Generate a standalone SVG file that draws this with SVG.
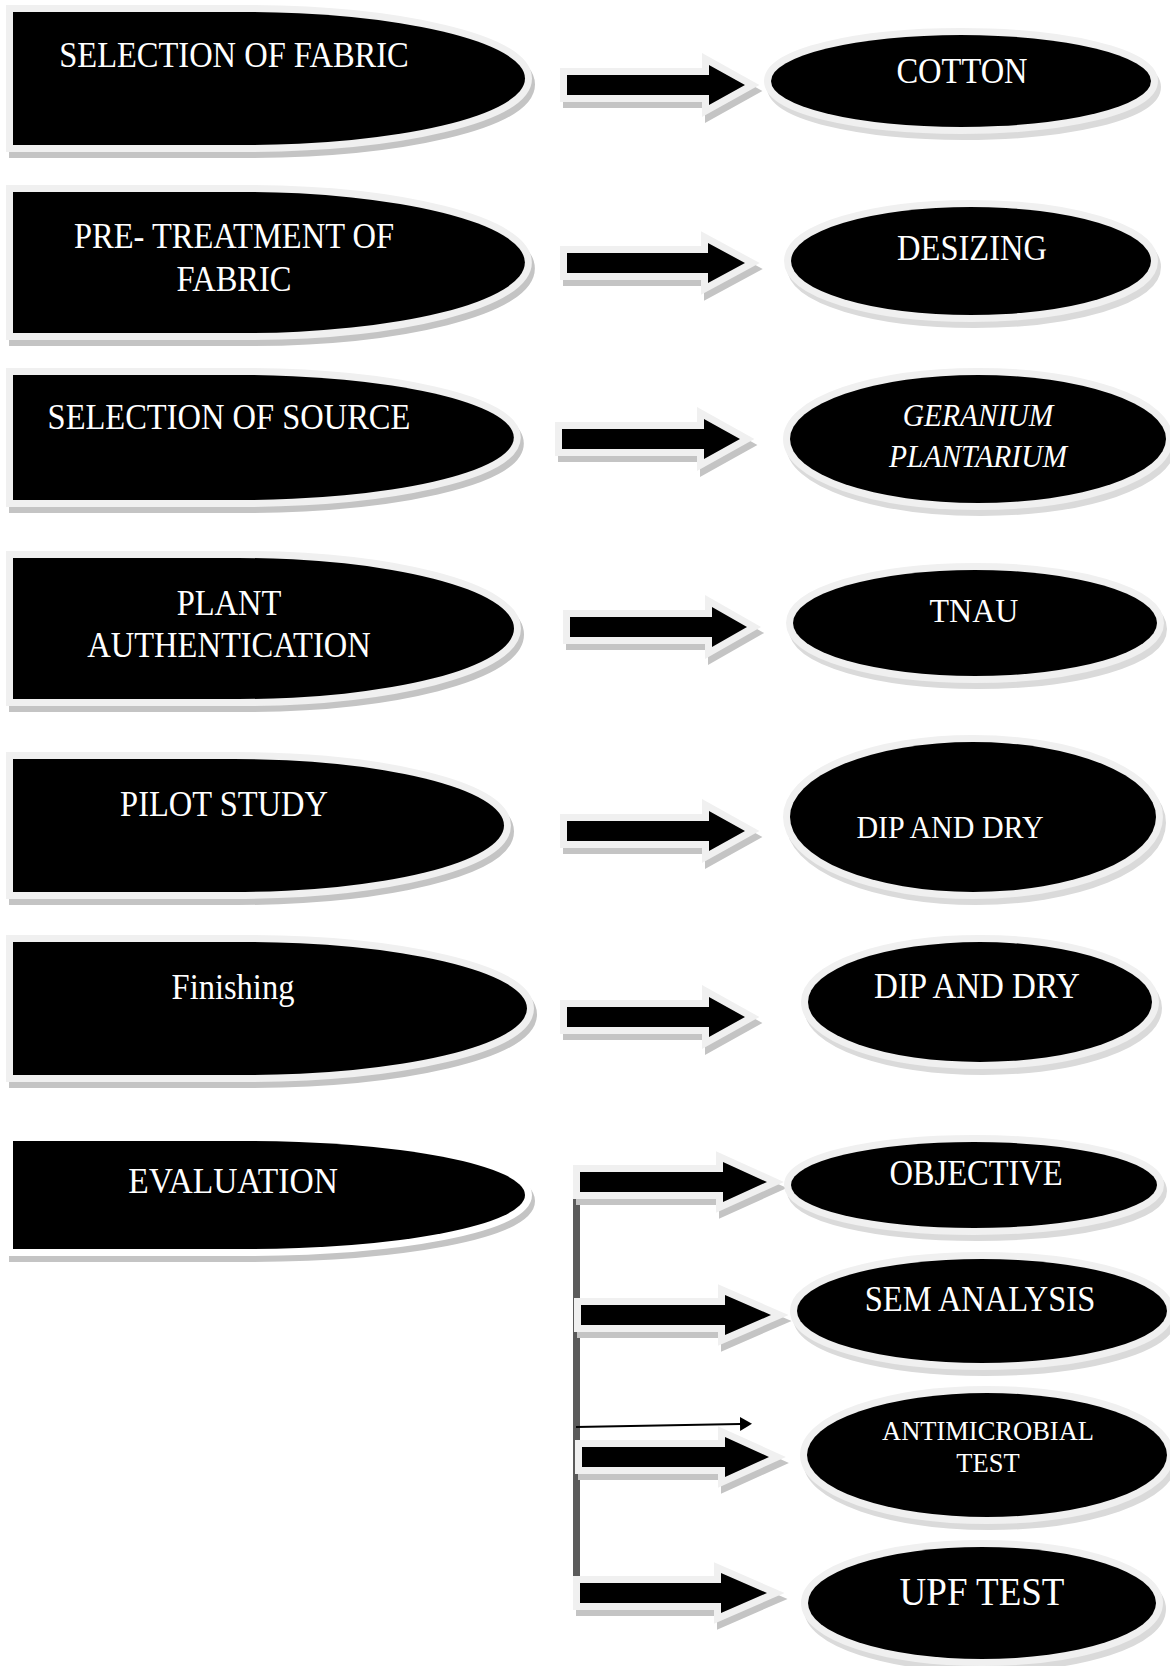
<svg xmlns="http://www.w3.org/2000/svg" width="1170" height="1666" viewBox="0 0 1170 1666">
<defs>
<style>
.shape{fill:#000;stroke:#f0f0f0;stroke-width:14;paint-order:stroke;stroke-linejoin:miter}
.shapew{fill:#000;stroke:#fff;stroke-width:14;paint-order:stroke}
.shadow{fill:#c4c4c4;stroke:#c4c4c4;stroke-width:14}
.eshadow{fill:#dadada;stroke:#dadada;stroke-width:14}
.arrow{fill:#000;stroke:#f0f0f0;stroke-width:14;paint-order:stroke;stroke-linejoin:miter;stroke-miterlimit:4}
.ashadow{fill:#c4c4c4;stroke:#c4c4c4;stroke-width:14;stroke-linejoin:miter;stroke-miterlimit:4}
text{font-family:"Liberation Serif","Times New Roman",serif;fill:#fff;text-anchor:middle;font-size:32.5px}
.it{font-style:italic;font-size:29.5px}
</style>
<marker id="thinhead" viewBox="0 0 12 14" refX="0" refY="7" markerWidth="12" markerHeight="14" markerUnits="userSpaceOnUse" orient="auto">
<path d="M0,0 L12,7 L0,14 Z" fill="#000"/>
</marker>
</defs>
<rect width="1170" height="1666" fill="#fff"/>

<!-- left column nodes -->
<g id="n-selection-fabric">
<path class="shadow" transform="translate(3,6)" d="M13,12 H244 A281,66.5 0 0 1 244,145 H13 Z"/>
<path class="shape" d="M13,12 H244 A281,66.5 0 0 1 244,145 H13 Z"/>
<text transform="translate(234,67) scale(1,1.07)">SELECTION OF FABRIC</text>
</g>
<g id="n-pretreatment">
<path class="shadow" transform="translate(3,6)" d="M13,192 H244 A281,70.5 0 0 1 244,333 H13 Z"/>
<path class="shape" d="M13,192 H244 A281,70.5 0 0 1 244,333 H13 Z"/>
<text transform="translate(234,248) scale(1,1.07)">PRE- TREATMENT OF</text>
<text transform="translate(234,291) scale(1,1.07)">FABRIC</text>
</g>
<g id="n-selection-source">
<path class="shadow" transform="translate(3,6)" d="M13,375 H239 A275,62.5 0 0 1 239,500 H13 Z"/>
<path class="shape" d="M13,375 H239 A275,62.5 0 0 1 239,500 H13 Z"/>
<text transform="translate(229,429) scale(1,1.07)">SELECTION OF SOURCE</text>
</g>
<g id="n-plant-auth">
<path class="shadow" transform="translate(3,6)" d="M13,558 H239 A275,70.5 0 0 1 239,699 H13 Z"/>
<path class="shape" d="M13,558 H239 A275,70.5 0 0 1 239,699 H13 Z"/>
<text transform="translate(229,615) scale(1,1.07)">PLANT</text>
<text transform="translate(229,657) scale(1,1.07)">AUTHENTICATION</text>
</g>
<g id="n-pilot">
<path class="shadow" transform="translate(3,6)" d="M13,759 H234 A270,66.5 0 0 1 234,892 H13 Z"/>
<path class="shape" d="M13,759 H234 A270,66.5 0 0 1 234,892 H13 Z"/>
<text transform="translate(224,816) scale(1,1.07)">PILOT STUDY</text>
</g>
<g id="n-finishing">
<path class="shadow" transform="translate(3,6)" d="M13,942 H245 A282,66.5 0 0 1 245,1075 H13 Z"/>
<path class="shape" d="M13,942 H245 A282,66.5 0 0 1 245,1075 H13 Z"/>
<text transform="translate(233,999) scale(1,1.07)">Finishing</text>
</g>
<g id="n-evaluation">
<path class="shadow" transform="translate(3,6)" d="M13,1141 H244 A281,54 0 0 1 244,1249 H13 Z"/>
<path class="shapew" d="M13,1141 H244 A281,54 0 0 1 244,1249 H13 Z"/>
<text transform="translate(233,1193) scale(1,1.07)" style="font-size:33.5px">EVALUATION</text>
</g>

<!-- connectors -->
<g id="connectors">
<line x1="576.5" y1="1172" x2="576.5" y2="1598" stroke="#5b5b5b" stroke-width="7"/>
<line x1="576" y1="1427" x2="740" y2="1424" stroke="#000" stroke-width="2" marker-end="url(#thinhead)"/>
<g id="arrow-1"><path class="ashadow" transform="translate(3,6)" d="M567,75 H709 V65 L745,85 L709,105 V95 H567 Z"/><path class="arrow" d="M567,75 H709 V65 L745,85 L709,105 V95 H567 Z"/></g>
<g id="arrow-2"><path class="ashadow" transform="translate(3,6)" d="M567,253 H708 V243 L745,263 L708,283 V273 H567 Z"/><path class="arrow" d="M567,253 H708 V243 L745,263 L708,283 V273 H567 Z"/></g>
<g id="arrow-3"><path class="ashadow" transform="translate(3,6)" d="M562,429 H704 V419 L740,439 L704,459 V449 H562 Z"/><path class="arrow" d="M562,429 H704 V419 L740,439 L704,459 V449 H562 Z"/></g>
<g id="arrow-4"><path class="ashadow" transform="translate(3,6)" d="M570,617 H712 V607 L747,627 L712,647 V637 H570 Z"/><path class="arrow" d="M570,617 H712 V607 L747,627 L712,647 V637 H570 Z"/></g>
<g id="arrow-5"><path class="ashadow" transform="translate(3,6)" d="M567,821 H709 V811 L745,831 L709,851 V841 H567 Z"/><path class="arrow" d="M567,821 H709 V811 L745,831 L709,851 V841 H567 Z"/></g>
<g id="arrow-6"><path class="ashadow" transform="translate(3,6)" d="M567,1007 H709 V997 L745,1017 L709,1037 V1027 H567 Z"/><path class="arrow" d="M567,1007 H709 V997 L745,1017 L709,1037 V1027 H567 Z"/></g>
<g id="arrow-7"><path class="ashadow" transform="translate(3,6)" d="M580,1172 H723 V1162 L767,1182 L723,1202 V1192 H580 Z"/><path class="arrow" d="M580,1172 H723 V1162 L767,1182 L723,1202 V1192 H580 Z"/></g>
<g id="arrow-8"><path class="ashadow" transform="translate(3,6)" d="M581,1305 H725 V1295 L771,1315 L725,1335 V1325 H581 Z"/><path class="arrow" d="M581,1305 H725 V1295 L771,1315 L725,1335 V1325 H581 Z"/></g>
<g id="arrow-9"><path class="ashadow" transform="translate(3,6)" d="M582,1447 H725 V1437 L769,1457 L725,1477 V1467 H582 Z"/><path class="arrow" d="M582,1447 H725 V1437 L769,1457 L725,1477 V1467 H582 Z"/></g>
<g id="arrow-10"><path class="ashadow" transform="translate(3,6)" d="M580,1583 H721 V1573 L767,1593 L721,1613 V1603 H580 Z"/><path class="arrow" d="M580,1583 H721 V1573 L767,1593 L721,1613 V1603 H580 Z"/></g>
</g>

<!-- right column nodes -->
<g id="n-cotton">
<ellipse class="eshadow" cx="964" cy="87" rx="190" ry="46"/>
<ellipse class="shape" cx="961" cy="81" rx="190" ry="46"/>
<text transform="translate(962,83) scale(1,1.07)">COTTON</text>
</g>
<g id="n-desizing">
<ellipse class="eshadow" cx="974" cy="267" rx="180" ry="54"/>
<ellipse class="shape" cx="971" cy="261" rx="180" ry="54"/>
<text transform="translate(972,260) scale(1,1.07)">DESIZING</text>
</g>
<g id="n-geranium">
<ellipse class="eshadow" cx="981" cy="445" rx="188" ry="64"/>
<ellipse class="shape" cx="978" cy="439" rx="188" ry="64"/>
<text class="it" transform="translate(978,426) scale(1,1.07)">GERANIUM</text>
<text class="it" transform="translate(978,467) scale(1,1.07)">PLANTARIUM</text>
</g>
<g id="n-tnau">
<ellipse class="eshadow" cx="978" cy="629" rx="182" ry="53"/>
<ellipse class="shape" cx="975" cy="623" rx="182" ry="53"/>
<text transform="translate(974,622) scale(1,1.07)" style="font-size:32px">TNAU</text>
</g>
<g id="n-dip1">
<ellipse class="eshadow" cx="976" cy="823" rx="183" ry="75"/>
<ellipse class="shape" cx="973" cy="817" rx="183" ry="75"/>
<text transform="translate(950,838) scale(1,1.07)" style="font-size:30px">DIP AND DRY</text>
</g>
<g id="n-dip2">
<ellipse class="eshadow" cx="983" cy="1008" rx="172" ry="60"/>
<ellipse class="shape" cx="980" cy="1002" rx="172" ry="60"/>
<text transform="translate(977,998) scale(1,1.07)" style="font-size:33px">DIP AND DRY</text>
</g>
<g id="n-objective">
<ellipse class="eshadow" cx="977" cy="1191" rx="183" ry="43"/>
<ellipse class="shape" cx="974" cy="1185" rx="183" ry="43"/>
<text transform="translate(976,1185) scale(1,1.07)">OBJECTIVE</text>
</g>
<g id="n-sem">
<ellipse class="eshadow" cx="985" cy="1317" rx="185" ry="52"/>
<ellipse class="shape" cx="982" cy="1311" rx="185" ry="52"/>
<text transform="translate(980,1311) scale(1,1.07)">SEM ANALYSIS</text>
</g>
<g id="n-antimicrobial">
<ellipse class="eshadow" cx="990" cy="1461" rx="180" ry="62"/>
<ellipse class="shape" cx="987" cy="1455" rx="180" ry="62"/>
<text transform="translate(988,1440) scale(1,1.07)" style="font-size:26.5px">ANTIMICROBIAL</text>
<text transform="translate(988,1472) scale(1,1.07)" style="font-size:26.5px">TEST</text>
</g>
<g id="n-upf">
<ellipse class="eshadow" cx="985" cy="1609" rx="174" ry="56"/>
<ellipse class="shape" cx="982" cy="1603" rx="174" ry="56"/>
<text transform="translate(982,1605) scale(1,1.07)" style="font-size:37px">UPF TEST</text>
</g>
</svg>
